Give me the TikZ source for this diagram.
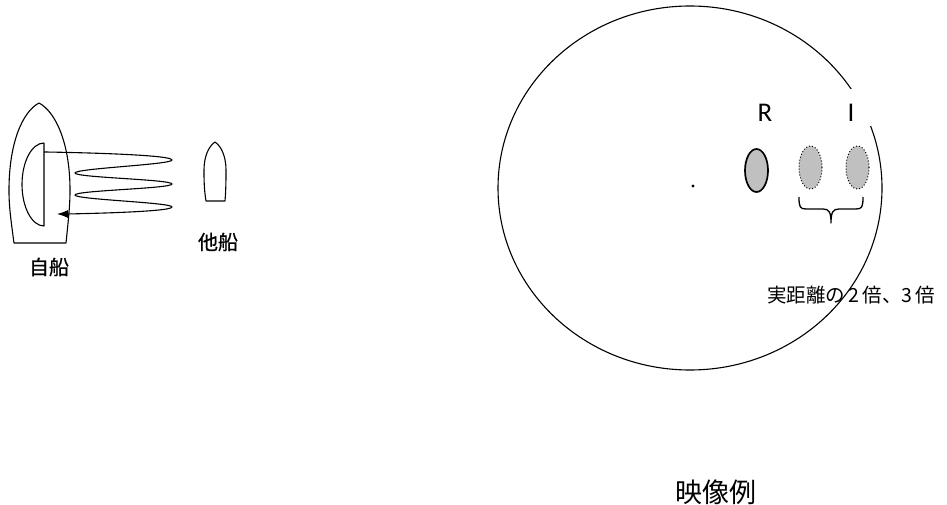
\documentclass[tikz,border=0pt]{standalone}
\usepackage{fontspec}
\setmainfont{Carlito}
\newfontfamily\gothic{Noto Sans CJK JP}[FakeBold=0.8]
\newfontfamily\mincho{Noto Sans CJK JP}
\usetikzlibrary{arrows.meta}
\definecolor{echogray}{RGB}{192,192,192}

\begin{document}
\begin{tikzpicture}[x=1pt,y=1pt,line join=round,
  outline/.style={draw=black,line width=1.1pt},
  wave/.style={draw=black,line width=1.1pt,looseness=0.12},
  shiplabel/.style={font=\gothic\fontsize{20}{24}\selectfont,inner sep=0pt},
  notelabel/.style={font=\mincho\fontsize{19.5}{23}\selectfont,inner sep=0pt},
  letter/.style={font=\fontsize{27}{32}\selectfont,inner sep=0pt},
  echoblob/.style={fill=echogray,draw=black}]
\useasboundingbox (0,0) rectangle (947,504);

% ---------- own ship with its antenna ----------
\draw[outline] (14,261) .. controls (10,290) and (9,300) .. (9,314)
  .. controls (9,360) and (22,392) .. (39,401)
  .. controls (56,392) and (70,360) .. (70,314)
  .. controls (70,300) and (69,290) .. (66,261) -- cycle;
\draw[outline] (44,361) -- (44,278)
  .. controls (31.85,278) and (22,296.9) .. (22,319.5)
  .. controls (22,342.4) and (31.85,361) .. (44,361);

% ---------- other ship ----------
\draw[outline] (206,303) .. controls (204,315) and (204,325) .. (204,334)
  .. controls (204,348) and (209,358) .. (215,362)
  .. controls (221,358) and (226,348) .. (226,334)
  .. controls (226,325) and (226,315) .. (225,303) -- cycle;

% ---------- bouncing echo path ----------
\coordinate (w0) at (44,352);
\coordinate (r1) at (172,344);
\coordinate (l1) at (75,331);
\coordinate (r2) at (172,320);
\coordinate (l2) at (75,309);
\coordinate (r3) at (172,297);
\coordinate (w9) at (57,290);
\draw[wave,-{Latex[length=11pt,width=8pt]}]
  (w0) to[out=0,in=90] (r1) to[out=-90,in=90] (l1)
  to[out=-90,in=90] (r2) to[out=-90,in=90] (l2)
  to[out=-90,in=90] (r3) to[out=-90,in=0] (w9);

\node[shiplabel] (own) at (49,237) {自船};
\node[shiplabel] (other) at (218,262) {他船};

% ---------- radar screen ----------
\draw[outline] (690,316) ellipse [x radius=192, y radius=182];
\fill (693,318) circle [radius=1.7];

\node[letter] (R) at (765,391) {R};
\node[letter,fill=white,minimum width=40pt,minimum height=37pt,
  text height=28.4pt,text depth=0pt] (I) at (851,396.5) {I};

\draw[echoblob,line width=1.7pt] (756.5,333.5) ellipse [x radius=11.5, y radius=21.5];
\draw[echoblob,line width=1pt,dotted] (810.5,336.5) ellipse [x radius=11.5, y radius=21.5];
\draw[echoblob,line width=1pt,dotted] (857.5,336.5) ellipse [x radius=11.5, y radius=21.5];

% brace under the false echoes
\draw[line width=1.3pt]
  (799,307) .. controls (799,297) and (800,295) .. (806,295) -- (823,295)
  .. controls (829,295) and (831,292) .. (831,281)
  .. controls (831,292) and (833,295) .. (839,295) -- (856,295)
  .. controls (862,295) and (863,297) .. (863,307);

\node[notelabel,anchor=west] (note) at (767,209) {実距離の\,2\,倍、3\,倍};
\node[font=\mincho\fontsize{27}{32}\selectfont,inner sep=0pt] (caption) at (716,12) {映像例};
\end{tikzpicture}
\end{document}
